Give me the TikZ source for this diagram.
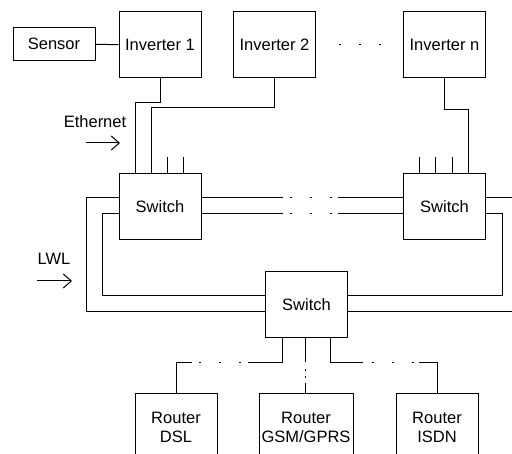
\documentclass[tikz,border=0pt]{standalone}
\usepackage{fontspec}
\setmainfont{Liberation Sans}
\usetikzlibrary{arrows.meta}
\tikzset{
box/.style={draw, line width=1pt, minimum width=82pt, minimum height=66pt, inner sep=0pt, align=center},
wire/.style={line width=1pt},
arr/.style={line width=1pt, -{Straight Barb[length=8pt,width=14pt]}}
}
\begin{document}
\begin{tikzpicture}[x=1pt,y=-1pt,font=\fontsize{16.5}{19}\selectfont]
\path[use as bounding box, fill=white] (0,0) rectangle (512,454);

\node[box, minimum height=33pt] (sensor) at (54,44) {Sensor};
\node[box] (inv1) at (160,45) {Inverter 1};
\node[box] (inv2) at (274.5,45) {Inverter 2};
\node[box] (invn) at (444.5,45) {Inverter n};
\node[box] (sw1) at (160,207) {Switch};
\node[box] (swn) at (444.5,207) {Switch};
\node[box] (sw0) at (306.5,305) {Switch};
\node[box] (dsl) at (176,427) {Router\\DSL};
\node[box, minimum width=94pt] (gsm) at (306,427) {Router\\GSM/GPRS};
\node[box] (isdn) at (437,427) {Router\\ISDN};

\node (eth) at (95,122) {Ethernet};
\node (lwl) at (54,259) {LWL};
\coordinate (ethA) at (86,143);
\coordinate (ethB) at (120,143);
\coordinate (lwlA) at (37,281);
\coordinate (lwlB) at (72,281);
\draw[arr] (ethA) -- (ethB);
\draw[arr] (lwlA) -- (lwlB);

\draw[wire] (sensor) -- (inv1);
\draw[wire, dash pattern=on 0pt off 23pt on 2pt off 18pt on 2pt off 18pt on 2pt off 60pt] (inv2.east) -- (invn.west);

\draw[wire] (inv1.south) -- ++(0,24) -| ([xshift=-25pt]sw1.north);
\draw[wire] (inv2.south) -- ++(0,29) -| ([xshift=-9pt]sw1.north);
\foreach \dx in {7,23}{
\draw[wire] ([xshift=\dx pt]sw1.north) -- ++(0,-16);
}
\draw[wire] (invn.south) -- ++(0,31) -| ([xshift=23.5pt]swn.north);
\foreach \dx in {-25.5,-9.5,7.5}{
\draw[wire] ([xshift=\dx pt]swn.north) -- ++(0,-16);
}

\foreach \dy in {9,-7}{
\draw[wire, dash pattern=on 81pt off 7pt on 2pt off 18pt on 2pt off 18pt on 2pt off 6pt on 80pt] ([yshift=\dy pt]sw1.east) -- ([yshift=\dy pt]swn.west);
}

\draw[wire] ([yshift=9pt]sw1.west) -- ++(-32,0) |- ([yshift=-7pt]sw0.west);
\draw[wire] ([yshift=-7pt]sw1.west) -- ++(-16,0) |- ([yshift=9pt]sw0.west);
\draw[wire] ([yshift=-7pt]swn.east) -- ++(16,0) |- ([yshift=9pt]sw0.east);
\draw[wire] ([yshift=9pt]swn.east) -- ++(30,0) |- ([yshift=-7pt]sw0.east);

\draw[wire, dash pattern=on 58pt off 7.5pt on 2pt off 18pt on 2pt off 18pt on 2pt off 6.5pt on 80pt] ([xshift=-24.5pt]sw0.south) -- ++(0,24) -| (dsl.north);
\draw[wire, dash pattern=on 24pt off 7pt on 2pt off 5pt on 2pt off 5pt on 40pt] ([xshift=-1.5pt]sw0.south) -- ([xshift=-1pt]gsm.north);
\draw[wire, dash pattern=on 57pt off 8.5pt on 2pt off 18pt on 2pt off 18pt on 2pt off 5.5pt on 80pt] ([xshift=23.5pt]sw0.south) -- ++(0,24) -| (isdn.north);
\end{tikzpicture}
\end{document}
